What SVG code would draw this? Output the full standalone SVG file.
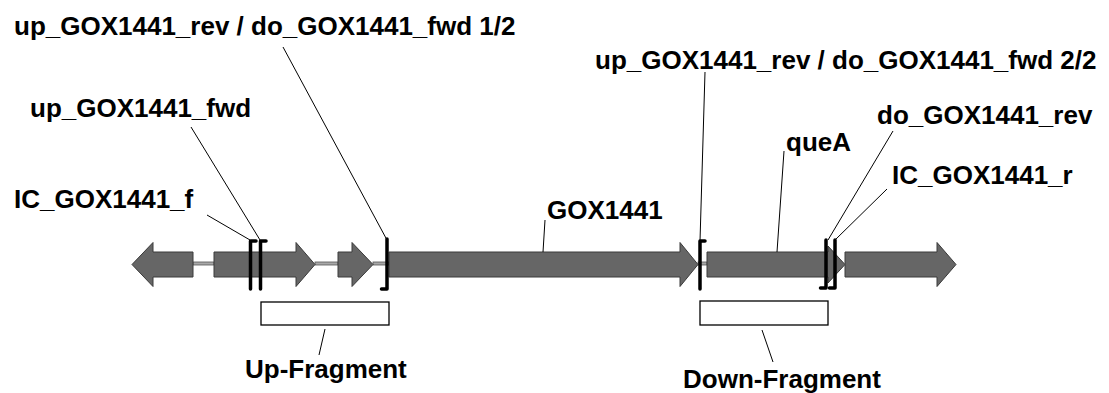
<svg xmlns="http://www.w3.org/2000/svg" width="1109" height="393" viewBox="0 0 1109 393">
<style>
.gene{fill:#666666;stroke:#3a3a3a;stroke-width:1}
.link{fill:#a8a8a8;stroke:#555555;stroke-width:0.8}
.primer{fill:none;stroke:#000;stroke-width:3.5;stroke-linecap:round;stroke-linejoin:round}
.leader{fill:none;stroke:#000;stroke-width:1}
.frag{fill:#fff;stroke:#000;stroke-width:1.3}
.lbl{font-family:"Liberation Sans",Arial,sans-serif;font-weight:bold;font-size:26px;fill:#000}
</style>
<rect width="1109" height="393" fill="#fff"/>
<g id="backbone">
<rect class="link" x="193" y="262" width="21" height="3"/>
<rect class="link" x="315" y="262" width="23" height="3"/>
<rect class="link" x="373" y="262" width="16" height="3"/>
<rect class="link" x="698" y="262" width="9" height="3"/>
</g>
<g id="gene1"><polygon class="gene" points="132,264.5 153,242.5 153,252 193,252 193,277 153,277 153,286.5"/></g>
<g id="gene2"><polygon class="gene" points="214,252 296,252 296,242.5 315,264.5 296,286.5 296,277 214,277"/></g>
<g id="gene3"><polygon class="gene" points="338,252 352,252 352,242.5 373,264.5 352,286.5 352,277 338,277"/></g>
<g id="GOX1441"><polygon class="gene" points="389,252 680,252 680,242.5 698,264.5 680,286.5 680,277 389,277"/></g>
<g id="queA"><polygon class="gene" points="707,252 828,252 828,246 845,264.5 828,283 828,277 707,277"/></g>
<g id="gene6"><polygon class="gene" points="845,252 937,252 937,242.5 956,264.5 937,286.5 937,277 845,277"/></g>
<g id="fragments">
<rect id="up-fragment" class="frag" x="261" y="302" width="128" height="23"/>
<rect id="down-fragment" class="frag" x="700" y="301" width="128" height="24"/>
</g>
<g id="primers">
<path id="p-IC-f" class="primer" d="M256,241 H250.5 V289"/>
<path id="p-up-fwd" class="primer" d="M266,241 H260.5 V289"/>
<path id="p-up-rev-1" class="primer" d="M387,239 V289 H381.5"/>
<path id="p-up-rev-2" class="primer" d="M705,241 H700 V289"/>
<path id="p-do-rev" class="primer" d="M826,240 V288 H820.5"/>
<path id="p-IC-r" class="primer" d="M835,240 V288 H829.5"/>
</g>
<g id="connectors">
<line class="leader" x1="283" y1="47" x2="387" y2="240"/>
<line class="leader" x1="191" y1="127" x2="260" y2="240"/>
<line class="leader" x1="207" y1="215" x2="250" y2="240"/>
<line class="leader" x1="545" y1="220" x2="543" y2="252"/>
<line class="leader" x1="705" y1="72" x2="700" y2="241"/>
<line class="leader" x1="784" y1="151" x2="777" y2="252"/>
<line class="leader" x1="893" y1="131" x2="828" y2="240"/>
<line class="leader" x1="887" y1="189" x2="835" y2="240"/>
<line class="leader" x1="325" y1="329" x2="319" y2="355"/>
<line class="leader" x1="762" y1="330" x2="773" y2="362"/>
</g>
<g id="labels">
<text class="lbl" x="14" y="35">up_GOX1441_rev / do_GOX1441_fwd 1/2</text>
<text class="lbl" x="30" y="117">up_GOX1441_fwd</text>
<text class="lbl" x="14" y="208">IC_GOX1441_f</text>
<text class="lbl" x="547" y="219">GOX1441</text>
<text class="lbl" x="595" y="69">up_GOX1441_rev / do_GOX1441_fwd 2/2</text>
<text class="lbl" x="786" y="151">queA</text>
<text class="lbl" x="877" y="124">do_GOX1441_rev</text>
<text class="lbl" x="892" y="184">IC_GOX1441_r</text>
<text class="lbl" x="245" y="378">Up-Fragment</text>
<text class="lbl" x="683" y="388">Down-Fragment</text>
</g>
</svg>
